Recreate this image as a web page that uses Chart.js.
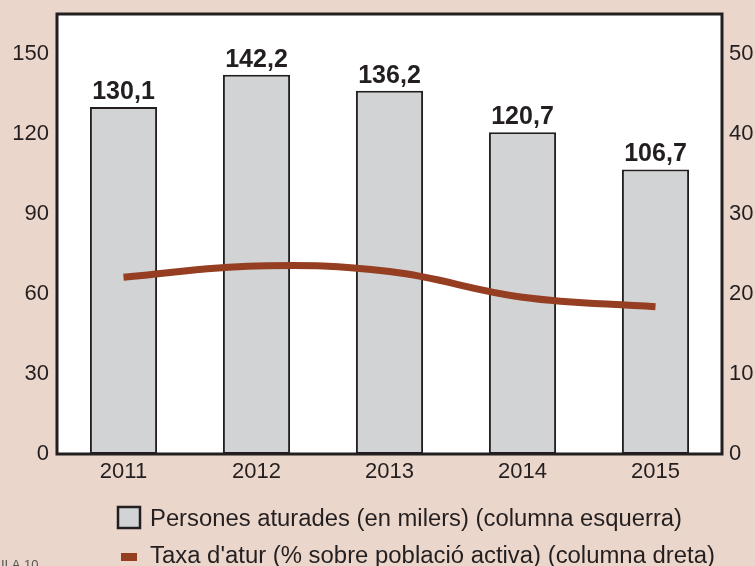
<!DOCTYPE html>
<html>
<head>
<meta charset="utf-8">
<script src="https://cdn.jsdelivr.net/npm/chart.js@4/dist/chart.umd.min.js"></script>
<style>
  html, body { margin: 0; padding: 0; background: #ebd6cb; }
  canvas { display: block; }
</style>
</head>
<body>
<canvas id="chart" width="755" height="566"></canvas>
<script>
// Chart data
var years = ['2011', '2012', '2013', '2014', '2015'];
var unemployed = [130.1, 142.2, 136.2, 120.7, 106.7];   // thousands, left axis
var rate = [22.1, 23.5, 22.8, 19.6, 18.4];              // %, right axis
var legendLabels = [
    'Persones aturades (en milers) (columna esquerra)',
    "Taxa d'atur (% sobre població activa) (columna dreta)"
];

var FONT = '"Liberation Sans", Arial, sans-serif';
var INK = '#231f20';
var BAR_FILL = '#d1d3d4';
var LINE_COLOR = '#953e21';

// white plot area + frame, value labels, legend
var decor = {
    id: 'decor',
    beforeDatasetsDraw: function (chart) {
        var a = chart.chartArea;
        var ctx = chart.ctx;
        ctx.save();
        ctx.fillStyle = '#ffffff';
        ctx.fillRect(a.left, a.top, a.right - a.left, a.bottom - a.top);
        ctx.restore();
    },
    afterDatasetsDraw: function (chart) {
        var a = chart.chartArea;
        var ctx = chart.ctx;
        ctx.save();
        ctx.strokeStyle = INK;
        ctx.lineWidth = 3;
        ctx.strokeRect(a.left, a.top, a.right - a.left, a.bottom - a.top);

        // bar value labels
        var meta = chart.getDatasetMeta(1);
        ctx.fillStyle = INK;
        ctx.font = 'bold 25px ' + FONT;
        ctx.textAlign = 'center';
        ctx.textBaseline = 'alphabetic';
        meta.data.forEach(function (bar, i) {
            var txt = unemployed[i].toFixed(1).replace('.', ',');
            ctx.fillText(txt, bar.x, bar.y - 8);
        });

        // legend
        ctx.textAlign = 'left';
        ctx.font = '23px ' + FONT;
        var targets = [532, 565];
        var baselines = [526, 563];
        legendLabels.forEach(function (label, i) {
            var w = ctx.measureText(label).width;
            ctx.save();
            ctx.translate(150, baselines[i]);
            ctx.scale(targets[i] / w, 1);
            ctx.fillText(label, 0, 0);
            ctx.restore();
        });
        ctx.fillStyle = BAR_FILL;
        ctx.fillRect(118, 507, 22, 21);
        ctx.strokeStyle = INK;
        ctx.lineWidth = 2.5;
        ctx.strokeRect(118, 507, 22, 21);
        ctx.fillStyle = LINE_COLOR;
        ctx.fillRect(121, 553, 16, 8);

        // figure id, cut off at the bottom
        ctx.fillStyle = '#555';
        ctx.font = '13px ' + FONT;
        ctx.textBaseline = 'top';
        ctx.fillText('II.A.10', 1, 559);
        ctx.restore();
    }
};

var fitY = function (w) {
    return function (s) {
        s.width = w;
        s.paddingTop = 0;
        s.paddingBottom = 0;
    };
};

new Chart(document.getElementById('chart'), {
    data: {
        labels: years,
        datasets: [{
            type: 'line',
            data: rate,
            yAxisID: 'y1',
            borderColor: LINE_COLOR,
            borderWidth: 7,
            borderCapStyle: 'butt',
            pointRadius: 0,
            tension: 0.4,
            fill: false,
            order: 0
        }, {
            type: 'bar',
            data: unemployed,
            yAxisID: 'y',
            backgroundColor: BAR_FILL,
            borderColor: INK,
            borderWidth: 2,
            borderSkipped: false,
            barPercentage: 0.505,
            categoryPercentage: 1,
            order: 1
        }]
    },
    options: {
        responsive: false,
        animation: false,
        layout: { padding: { top: 14, left: 0, right: 0, bottom: 0 } },
        plugins: {
            legend: { display: false },
            tooltip: { enabled: false }
        },
        scales: {
            x: {
                grid: { display: false, drawTicks: false },
                border: { display: false },
                ticks: { color: INK, font: { family: FONT, size: 22 }, padding: 5 },
                afterFit: function (s) { s.height = 112; }
            },
            y: {
                position: 'left',
                min: 0,
                max: 165,
                grid: { display: false, drawTicks: false },
                border: { display: false },
                ticks: {
                    stepSize: 30,
                    color: INK,
                    font: { family: FONT, size: 22 },
                    padding: 8,
                    callback: function (v) { return v % 30 === 0 ? v : ''; }
                },
                afterFit: fitY(57)
            },
            y1: {
                position: 'right',
                min: 0,
                max: 55,
                grid: { display: false, drawTicks: false },
                border: { display: false },
                ticks: {
                    stepSize: 10,
                    color: INK,
                    font: { family: FONT, size: 22 },
                    padding: 7,
                    callback: function (v) { return v % 10 === 0 ? v : ''; }
                },
                afterFit: fitY(33)
            }
        }
    },
    plugins: [decor]
});
</script>
</body>
</html>
